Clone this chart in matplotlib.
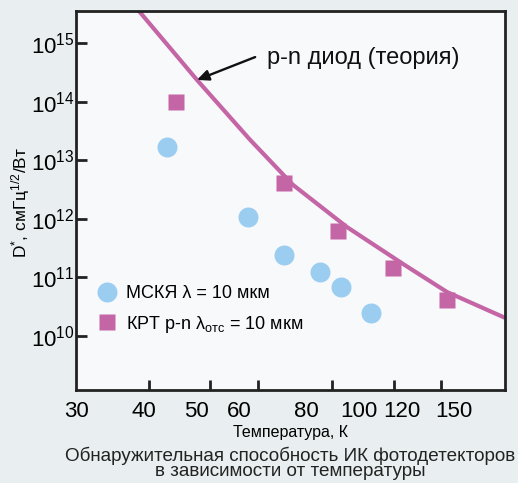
import numpy as np
import matplotlib
matplotlib.use("Agg")
import matplotlib.pyplot as plt
from matplotlib.ticker import FixedLocator, NullFormatter, FixedFormatter

plt.rcParams['font.family'] = ['Liberation Sans', 'DejaVu Sans']
plt.rcParams['mathtext.fontset'] = 'custom'
plt.rcParams['mathtext.rm'] = 'Liberation Sans'
plt.rcParams['mathtext.it'] = 'Liberation Sans:italic'
plt.rcParams['mathtext.bf'] = 'Liberation Sans:bold'

# Theoretical p-n diode detectivity (temperature K, log10 D*)
theory_T = [39.1, 50.2, 62.9, 75.5, 95.0, 120.6, 145.5, 186.2]
theory_logD = [15.56, 14.37, 13.35, 12.58, 11.86, 11.23, 10.75, 10.31]

# QWIP (МСКЯ), lambda = 10 um
qwip_T = [44.2, 62.4, 72.7, 84.7, 92.7, 105.3]
qwip_logD = [13.23, 12.03, 11.38, 11.09, 10.84, 10.39]

# MCT p-n (КРТ), cutoff 10 um
mct_T = [45.9, 72.7, 91.5, 115.6, 145.5]
mct_logD = [14.00, 12.61, 11.79, 11.16, 10.61]

x_labels = [30, 40, 50, 60, 80, 100, 120, 150]
x_marks = [41, 53, 65, 89, 116, 142]
y_decades = [10, 11, 12, 13, 14, 15]

blue = '#9bcdf0'
pink = '#c465a5'

fig = plt.figure(figsize=(5.18, 4.83), dpi=100, facecolor='#e9eff0')
ax = fig.add_axes([0.1467, 0.1925, 0.975 - 0.1467, 0.9772 - 0.1925])
ax.set_facecolor('#f8f9fb')
ax.set_xscale('log')
ax.set_yscale('log')

ax.plot(theory_T, 10.0 ** np.array(theory_logD), color=pink, lw=3.0,
        solid_capstyle='butt', zorder=2)
ax.plot(qwip_T, 10.0 ** np.array(qwip_logD), ls='none', marker='o', ms=14.4,
        mfc=blue, mec='none', zorder=3, label='МСКЯ λ = 10 мкм')
ax.plot(mct_T, 10.0 ** np.array(mct_logD), ls='none', marker='s', ms=11.5,
        mfc=pink, mec='none', zorder=3,
        label='КРТ p-n λ$_{\\mathrm{отс}}$ = 10 мкм')

ax.set_xlim(30, 186.2)
ax.set_ylim(10 ** 9.078, 10 ** 15.546)

# x axis: labels and tick marks
ax.xaxis.set_major_locator(FixedLocator(x_labels))
ax.xaxis.set_major_formatter(FixedFormatter([str(v) for v in x_labels]))
ax.xaxis.set_minor_locator(FixedLocator(x_marks))
ax.xaxis.set_minor_formatter(NullFormatter())
ax.tick_params(axis='x', which='major', length=0, pad=8, labelsize=16)
ax.tick_params(axis='x', which='minor', direction='in', length=7, width=2,
               color='#222222')

# y axis: decades
ax.yaxis.set_major_locator(FixedLocator([10.0 ** d for d in y_decades]))
ax.yaxis.set_major_formatter(FixedFormatter(['$10^{%d}$' % d for d in y_decades]))
ax.yaxis.set_minor_locator(FixedLocator([]))
ax.tick_params(axis='y', which='major', direction='in', length=8, width=2,
               color='#222222', labelsize=16, pad=1)

for sp in ax.spines.values():
    sp.set_linewidth(2.0)
    sp.set_color('#222222')

ax.set_xlabel('Температура, К', fontsize=11.5, labelpad=2)
ax.set_ylabel('D$^{*}$, смГц$^{1/2}$/Вт', fontsize=12.5)
ax.yaxis.set_label_coords(-0.103, 0.496)

# annotation of the theory curve
tip = (theory_T[1], 10 ** theory_logD[1])
ax.annotate('', xy=tip, xytext=(64.3, 10 ** 14.76),
            arrowprops=dict(arrowstyle='-|>,head_length=0.7,head_width=0.32',
                            color='#111111', lw=1.7, shrinkA=0, shrinkB=0))
ax.text(67.6, 10 ** 14.74, 'p-n диод (теория)', fontsize=17,
        ha='left', va='center', color='#111111')

leg = ax.legend(loc='upper left', bbox_to_anchor=(0.035, 0.295), frameon=False,
                fontsize=13, handlelength=1.0, handletextpad=0.55,
                labelspacing=0.62, borderaxespad=0)

fig.text(0.56, 0.041, 'Обнаружительная способность ИК фотодетекторов\n'
         'в зависимости от температуры', ha='center', va='center',
         fontsize=13.6, linespacing=0.9, color='#222222')

fig.savefig('out.png', dpi=100, facecolor=fig.get_facecolor())
